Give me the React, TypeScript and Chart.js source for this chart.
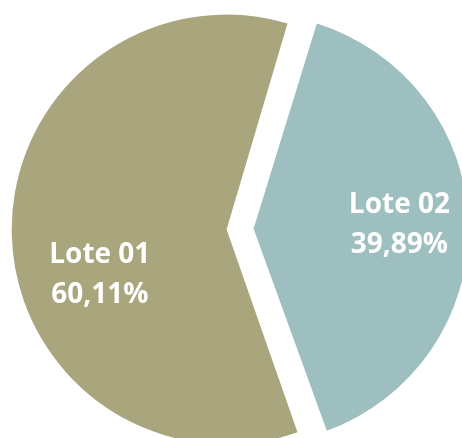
import React, { useEffect, useRef } from "react";
import { Chart, registerables } from "chart.js";

Chart.register(...registerables);

const categories = ["Lote 01", "Lote 02"];
const values = [60.11, 39.89];
const valueLabels = ["60,11%", "39,89%"];
const colors = ["#A9A67D", "#9EBFBF"];
const sliceOffsets = [31.6, 76.4];
const labelRadiusFrac = [0.687, 0.797];
const labelAngleShiftDeg = [-17.3, 0];

const labelPlugin = {
  id: "sliceLabels",
  afterDatasetsDraw(chart: any) {
    const ctx = chart.ctx;
    const meta = chart.getDatasetMeta(0);
    ctx.save();
    ctx.fillStyle = "#FFFFFF";
    ctx.font = "bold 28px 'Open Sans'";
    ctx.textAlign = "center";
    ctx.textBaseline = "middle";
    meta.data.forEach((arc: any, i: number) => {
      const p = arc.getProps(["x", "y", "startAngle", "endAngle", "outerRadius"], true);
      const mid = (p.startAngle + p.endAngle) / 2 + (labelAngleShiftDeg[i] * Math.PI) / 180;
      const r = p.outerRadius * labelRadiusFrac[i];
      const cx = p.x + Math.cos(mid) * r;
      const cy = p.y + Math.sin(mid) * r;
      ctx.fillText(categories[i], cx, cy - 20);
      ctx.fillText(valueLabels[i], cx, cy + 20);
    });
    ctx.restore();
  },
};

export default function App() {
  const ref = useRef<HTMLCanvasElement | null>(null);
  useEffect(() => {
    if (!ref.current) return;
    const chart = new Chart(ref.current, {
      type: "pie",
      data: {
        labels: categories,
        datasets: [
          {
            data: values,
            backgroundColor: colors,
            borderWidth: 0,
            offset: sliceOffsets,
            hoverOffset: 0,
            clip: false,
          } as any,
        ],
      },
      options: {
        responsive: false,
        animation: false,
        rotation: 160.4,
        radius: 207,
        layout: { padding: { left: 7, right: 0, top: 20.6, bottom: 0 } },
        plugins: {
          legend: { display: false },
          tooltip: { enabled: false },
          title: { display: false },
        },
        events: [],
      } as any,
      plugins: [labelPlugin],
    });
    return () => chart.destroy();
  }, []);
  return (
    <div
      style={{
        position: "fixed",
        left: 0,
        top: 0,
        width: 462,
        height: 438,
        overflow: "hidden",
        background: "#FFFFFF",
      }}
    >
      <canvas ref={ref} width={462} height={438} style={{ display: "block" }} />
    </div>
  );
}
